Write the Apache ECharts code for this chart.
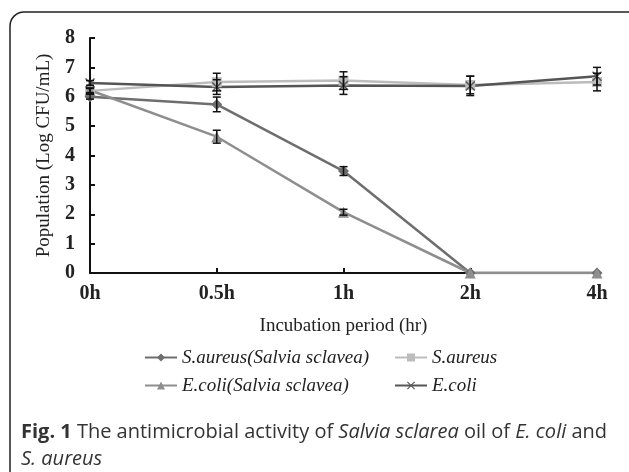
<!DOCTYPE html>
<html>
<head>
<meta charset="utf-8">
<script src="https://cdn.jsdelivr.net/npm/echarts@6/dist/echarts.min.js"></script>
<style>
html, body { margin: 0; padding: 0; background: #fff; }
#main { width: 629px; height: 472px; }
</style>
</head>
<body>
<div id="main"></div>
<script>
var hours = ['0h', '0.5h', '1h', '2h', '4h'];

var saSalvia = [6.0, 5.74, 3.47, 0, 0];
var saSalviaErr = [0.08, 0.25, 0.15, 0, 0];
var sa = [6.2, 6.5, 6.55, 6.4, 6.5];
var saErr = [0.08, 0.3, 0.3, 0.3, 0.3];
var ecSalvia = [6.22, 4.64, 2.07, 0, 0];
var ecSalviaErr = [0.08, 0.22, 0.1, 0, 0];
var ec = [6.47, 6.33, 6.38, 6.37, 6.7];
var ecErr = [0.08, 0.25, 0.3, 0.33, 0.3];

var names = ['S.aureus(Salvia sclavea)', 'S.aureus', 'E.coli(Salvia sclavea)', 'E.coli'];
var colors = ['#6e6e6e', '#bcbcbc', '#8e8e8e', '#555555'];
var xMark = 'path://M0,1L1,0L5,4L9,0L10,1L6,5L10,9L9,10L5,6L1,10L0,9L4,5Z';

var myChart = echarts.init(document.getElementById('main'));

function errSeries(vals, errs) {
    var d = vals.map(function (v, i) { return [i, v - errs[i], v + errs[i]]; });
    return {
        type: 'custom',
        silent: true,
        z: 5,
        data: d,
        renderItem: function (params, api) {
            if (api.value(2) - api.value(1) <= 0) return null;
            var lo = api.coord([api.value(0), api.value(1)]);
            var hi = api.coord([api.value(0), api.value(2)]);
            var w = 4;
            var st = { stroke: '#111', lineWidth: 1.5 };
            return {
                type: 'group',
                children: [
                    { type: 'line', shape: { x1: lo[0], y1: lo[1], x2: hi[0], y2: hi[1] }, style: st },
                    { type: 'line', shape: { x1: lo[0] - w, y1: lo[1], x2: lo[0] + w, y2: lo[1] }, style: st },
                    { type: 'line', shape: { x1: hi[0] - w, y1: hi[1], x2: hi[0] + w, y2: hi[1] }, style: st }
                ]
            };
        }
    };
}

function lineSeries(name, vals, color, symbol, size) {
    return {
        name: name,
        type: 'line',
        data: vals,
        symbol: symbol,
        symbolSize: size,
        z: 3,
        lineStyle: { color: color, width: 2.5 },
        itemStyle: { color: color }
    };
}

var legendText = { fontFamily: 'Liberation Serif', fontStyle: 'italic', fontSize: 19, color: '#222' };
function oneLegend(name, left, top) {
    return {
        data: [name],
        left: left,
        top: top,
        itemWidth: 32,
        itemHeight: 10,
        itemGap: 2,
        textStyle: legendText
    };
}

option = {
    animation: false,
    grid: { left: 90, right: 32, top: 38, bottom: 199 },
    legend: [
        oneLegend(names[0], 139, 343),
        oneLegend(names[1], 389, 343),
        oneLegend(names[2], 139, 371),
        oneLegend(names[3], 389, 371)
    ],
    xAxis: {
        type: 'category',
        data: hours,
        boundaryGap: false,
        name: 'Incubation period (hr)',
        nameLocation: 'middle',
        nameGap: 44,
        nameTextStyle: { fontFamily: 'Liberation Serif', fontSize: 19, color: '#222' },
        axisLine: { lineStyle: { color: '#111', width: 2 } },
        axisTick: { inside: true, length: 5, lineStyle: { color: '#111', width: 2 } },
        axisLabel: { margin: 11, fontFamily: 'Liberation Serif', fontWeight: 'bold', fontSize: 20, color: '#222' }
    },
    yAxis: {
        type: 'value',
        min: 0,
        max: 8,
        interval: 1,
        name: 'Population (Log CFU/mL)',
        nameLocation: 'middle',
        nameGap: 36,
        nameTextStyle: { fontFamily: 'Liberation Serif', fontSize: 19, color: '#222' },
        splitLine: { show: false },
        axisLine: { show: true, lineStyle: { color: '#111', width: 2 } },
        axisTick: { show: true, inside: true, length: 5, lineStyle: { color: '#111', width: 2 } },
        axisLabel: { margin: 15, fontFamily: 'Liberation Serif', fontWeight: 'bold', fontSize: 20, color: '#222' }
    },
    series: [
        lineSeries(names[1], sa, colors[1], 'rect', 10),
        lineSeries(names[0], saSalvia, colors[0], 'diamond', 11),
        lineSeries(names[2], ecSalvia, colors[2], 'triangle', 11),
        lineSeries(names[3], ec, colors[3], xMark, 10),
        errSeries(saSalvia, saSalviaErr),
        errSeries(sa, saErr),
        errSeries(ecSalvia, ecSalviaErr),
        errSeries(ec, ecErr)
    ],
    graphic: [
        {
            type: 'rect',
            shape: { x: 10, y: 12, width: 640, height: 480, r: 14 },
            style: { fill: 'none', stroke: '#222', lineWidth: 1.5 },
            silent: true
        },
        {
            type: 'text',
            left: 21,
            top: 419,
            style: {
                text: '{b|Fig. 1} The antimicrobial activity of {i|Salvia sclarea} oil of {i|E. coli} and\n{i|S. aureus}',
                fontFamily: 'Open Sans',
                fontSize: 20,
                lineHeight: 27,
                fill: '#333',
                rich: {
                    b: { fontFamily: 'Open Sans', fontSize: 20, fontWeight: 'bold', fill: '#333', lineHeight: 27 },
                    i: { fontFamily: 'Open Sans', fontSize: 20, fontStyle: 'italic', fill: '#333', lineHeight: 27 }
                }
            }
        }
    ]
};

myChart.setOption(option);
</script>
</body>
</html>
